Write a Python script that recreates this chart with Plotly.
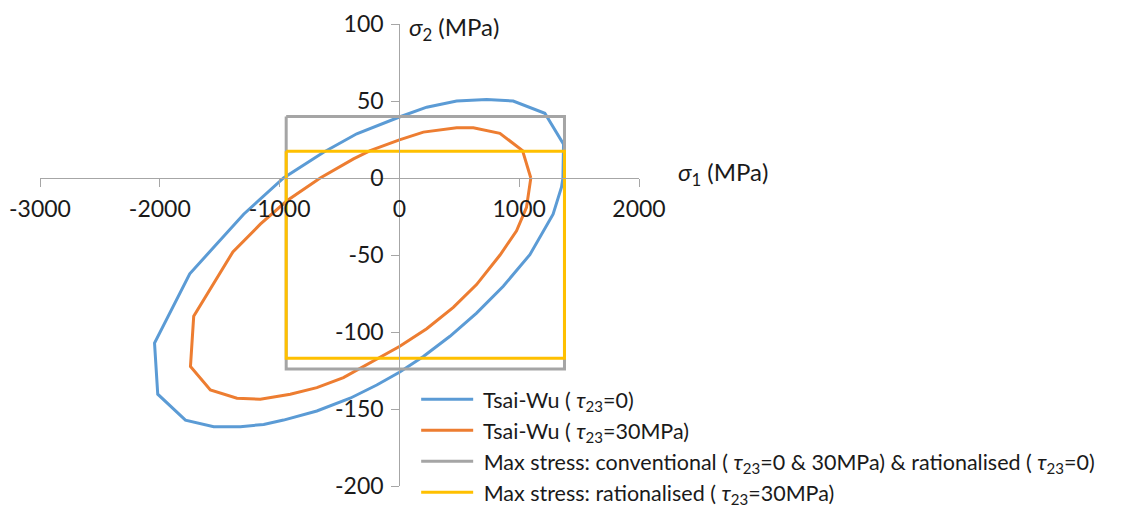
import plotly.graph_objects as go

# Tsai-Wu failure envelope, tau23 = 0 (sigma1, sigma2 in MPa)
tw0_sigma1 = [1365, 1370, 1214, 950, 728, 478, 228, 0, -356, -633, -967, -1300, -1578, -1750,
              -2044, -2017, -1786, -1550, -1328, -1133, -967, -689, -411, -189, 0, 200, 422,
              644, 867, 1089, 1283, 1353, 1365]
tw0_sigma2 = [0, 22, 42, 50, 51, 50, 46, 39.6, 28.7, 16.7, 0, -23.5, -47.4, -62.2,
              -107.2, -140.4, -157.2, -161.5, -161.5, -160, -157.2, -151.3, -143, -134.4, -126.1, -115.9, -102.8,
              -87.7, -70.3, -49.8, -23.5, -6, 0]

# Tsai-Wu failure envelope, tau23 = 30 MPa
tw30_sigma1 = [1097, 1028, 839, 617, 478, 200, 0, -244, -383, -661, -939, -1161, -1390, -1717,
               -1744, -1578, -1356, -1161, -911, -689, -467, -244, 0, 228, 450, 644, 840, 978,
               1061, 1097]
tw30_sigma2 = [0, 17.8, 29, 32.6, 32.6, 29.8, 24.8, 17.8, 12.4, 0, -14.8, -30, -48, -89.8,
               -122.4, -137.6, -143, -143.7, -140.4, -136.1, -129.6, -120.2, -109.4, -97.9, -84, -69.2, -50, -34.3,
               -19, 0]

# Max stress limits
box_sigma1 = [-945, 1378]          # compressive / tensile longitudinal limits
conv_sigma2 = [-124, 40]           # conventional (and rationalised tau23=0)
rat30_sigma2 = [-117, 17.4]        # rationalised, tau23 = 30 MPa

x_ticks = [-3000, -2000, -1000, 0, 1000, 2000]
x_tick_labels = ["-3000", "-2000", "-1000", "0", "1000", "2000"]
y_ticks = [-200, -150, -100, -50, 0, 50, 100]
y_tick_labels = ["-200", "-150", "-100", "-50", "0", "50", "100"]


def rect(xs, ys):
    return ([xs[0], xs[1], xs[1], xs[0], xs[0]], [ys[1], ys[1], ys[0], ys[0], ys[1]])


FONT = "Lato, 'Open Sans', sans-serif"
TAU = "<i>τ</i><sub>23</sub>"

fig = go.Figure()
fig.add_trace(go.Scatter(x=tw0_sigma1, y=tw0_sigma2, mode="lines",
                         line=dict(color="#5B9BD5", width=3),
                         name=f"&nbsp;Tsai-Wu ( {TAU}=0)", legendgroup="a"))
fig.add_trace(go.Scatter(x=tw30_sigma1, y=tw30_sigma2, mode="lines",
                         line=dict(color="#ED7D31", width=3),
                         name=f"&nbsp;Tsai-Wu ( {TAU}=30MPa)", legendgroup="b"))
gx, gy = rect(box_sigma1, conv_sigma2)
fig.add_trace(go.Scatter(x=gx, y=gy, mode="lines",
                         line=dict(color="#A5A5A5", width=3),
                         name=f"&nbsp;Max stress: conventional ( {TAU}=0 & 30MPa) & rationalised ( {TAU}=0)",
                         legendgroup="c"))
yx, yy = rect(box_sigma1, rat30_sigma2)
fig.add_trace(go.Scatter(x=yx, y=yy, mode="lines",
                         line=dict(color="#FFC000", width=3),
                         name=f"&nbsp;Max stress: rationalised ( {TAU}=30MPa)", legendgroup="d"))

axis_common = dict(showgrid=False, zeroline=False, showline=True, linecolor="#A6A6A6",
                   linewidth=1.3, ticks="outside", tickcolor="#A6A6A6", ticklen=8, tickwidth=1.3,
                   tickfont=dict(family=FONT, size=23, color="#1a1a1a"))

fig.update_layout(
    width=1123, height=508,
    margin=dict(l=40, r=484, t=24, b=22, autoexpand=False),
    paper_bgcolor="white", plot_bgcolor="white",
    xaxis=dict(range=[-3000, 2000], tickvals=x_ticks, ticktext=x_tick_labels,
               anchor="free", position=200 / 300, ticklabelstandoff=2, **axis_common),
    yaxis=dict(range=[-200, 100], tickvals=y_ticks, ticktext=y_tick_labels,
               anchor="free", position=3000 / 5000, ticklabelstandoff=3, **axis_common),
    showlegend=True,
    legend=dict(x=0.628, y=0.232, xanchor="left", yanchor="top", bgcolor="rgba(0,0,0,0)",
                font=dict(family=FONT, size=21.5, color="#1a1a1a"), tracegroupgap=0,
                itemwidth=52),
    annotations=[
        dict(x=0, y=100, xref="x", yref="y", xanchor="left", yanchor="middle", xshift=8, yshift=-4,
             text="<i>σ</i><sub>2</sub> (MPa)", showarrow=False,
             font=dict(family=FONT, size=24, color="#1a1a1a")),
        dict(x=2000, y=0, xref="x", yref="y", xanchor="left", yanchor="middle", xshift=37, yshift=5,
             text="<i>σ</i><sub>1</sub> (MPa)", showarrow=False,
             font=dict(family=FONT, size=24, color="#1a1a1a")),
    ],
)

fig.write_html("out.html", config={"displayModeBar": False},
               post_script="document.body.style.margin='0px';")
